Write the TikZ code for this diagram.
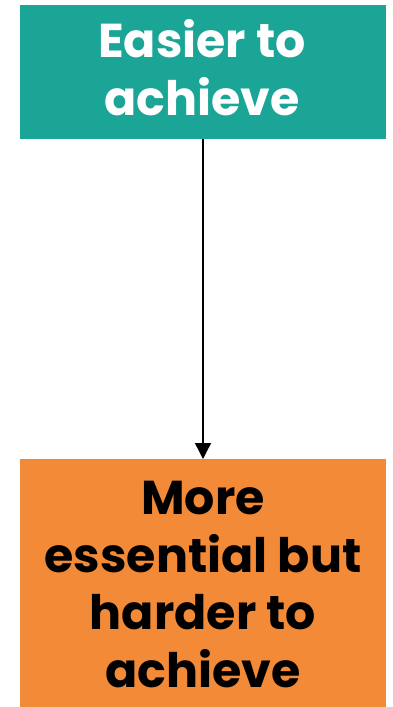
\documentclass[tikz,border=0pt]{standalone}
\usepackage{fontspec}
\setmainfont{Poppins}[UprightFont=* Bold]
\usetikzlibrary{arrows.meta}
\definecolor{teal1}{HTML}{1BA596}
\definecolor{orange1}{HTML}{F28A37}
\begin{document}
\begin{tikzpicture}[x=1pt,y=-1pt,
  box/.style={draw=none,minimum width=366pt,inner sep=0pt,outer sep=0pt},
  lbl/.style={align=center,font=\fontsize{47.5}{57.5}\selectfont,inner sep=0pt},
  conn/.style={line width=1.3pt,-{Triangle[length=16pt,width=16pt]}}]
\useasboundingbox (0,0) rectangle (393,707);
\node[box,fill=teal1,minimum height=134pt] (top) at (203,72) {};
\node[box,fill=orange1,minimum height=248pt] (bot) at (203,583) {};
\node[lbl,text=white,anchor=base] (t1) at (202,115) {Easier to\\achieve};
\node[lbl,text=black,anchor=base] (t2) at (203,687) {More\\essential but\\harder to\\achieve};
\draw[conn] (top.south) -- (bot.north);
\end{tikzpicture}
\end{document}
